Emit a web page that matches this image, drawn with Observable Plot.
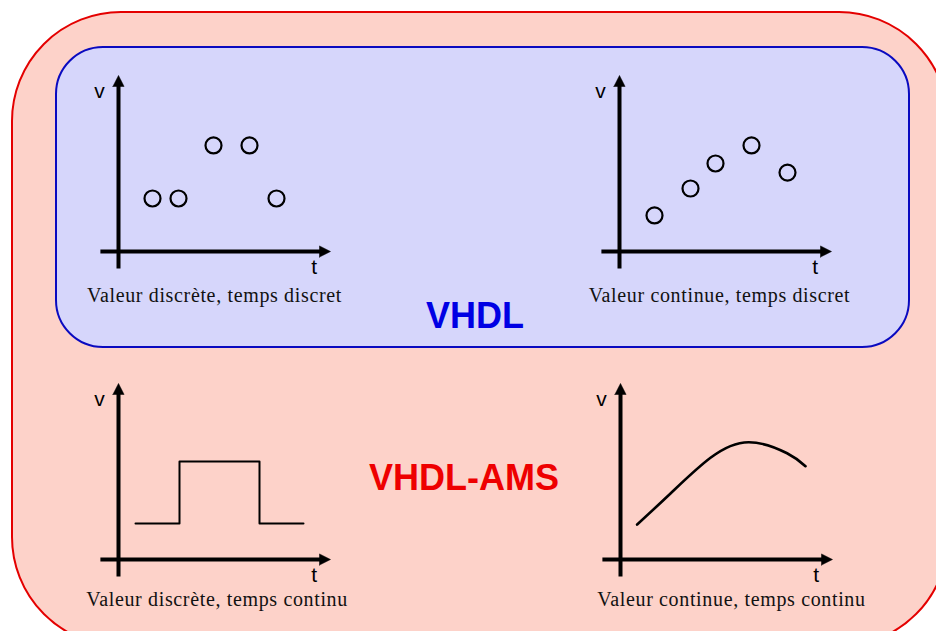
<!DOCTYPE html>
<html>
<head>
<meta charset="utf-8">
<script src="https://cdn.jsdelivr.net/npm/d3@7"></script>
<script src="https://cdn.jsdelivr.net/npm/@observablehq/plot@0.6"></script>
<style>
  html, body { margin: 0; padding: 0; background: #ffffff; overflow: hidden; }
  #stage { position: relative; width: 936px; height: 631px; overflow: hidden; background: #ffffff; }
  .box { position: absolute; box-sizing: border-box; }
  #outer { left: 11px; top: 11px; width: 938px; height: 636px; border: 2px solid #e40000; border-radius: 110px; background: #fdd2c9; }
  #inner { left: 55px; top: 46px; width: 855px; height: 302px; border: 2px solid #0a0ac0; border-radius: 48px; background: #d6d6fb; }
  .label { position: absolute; font-family: "Liberation Sans", Arial, sans-serif; font-weight: bold; font-size: 36px; line-height: 36px; white-space: nowrap; transform: translateX(-50%); }
  .panel { position: absolute; }
  .panel g[font-family*="Serif"] text { letter-spacing: 0.65px; }
</style>
</head>
<body>
<div id="stage">
  <div id="outer" class="box"></div>
  <div id="inner" class="box"></div>
</div>
<script>
// ---------- data ----------
const panelNames = ["tl", "tr", "bl", "br"];
const captions = [
  "Valeur discrète, temps discret",
  "Valeur continue, temps discret",
  "Valeur discrète, temps continu",
  "Valeur continue, temps continu"
];
const captionT = [4.8, 5.0, 4.93, 5.55];
const captionV = [-2.91, -2.91, -2.63, -2.63];

// discrete value, discrete time (points)
const tlT = [1.7, 3.0, 4.75, 6.55, 7.9];
const tlV = [3.03, 3.03, 6.06, 6.06, 3.03];
// continuous value, discrete time (points)
const trT = [1.75, 3.55, 4.8, 6.6, 8.4];
const trV = [2.06, 3.6, 5.03, 6.06, 4.51];
// discrete value, continuous time (step)
const blT = [0.85, 3.05, 7.05, 9.25];
const blV = [2.06, 5.6, 2.06, 2.06];
// continuous value, continuous time (curve)
const brT = [0.83, 2.5, 4.5, 6.42, 8.33, 9.25];
const brV = [2.0, 3.77, 5.81, 6.7, 6.07, 5.33];

// axis extents (t axis, v axis) and axis labels
const axisT = [-0.88, 10.6];
const axisV = [-1.0, 10.06];
const axisLabels = ["v", "t"];
const axisLabelT = [-0.95, 9.78];
const axisLabelV = [9.15, -0.9];

const titles = ["VHDL", "VHDL-AMS"];

// ---------- layout (pixels) ----------
const origins = [[118, 251], [619, 251], [118, 559], [620, 559]];
const W = 260, H = 250, ML = 40, MR = 20, MT = 10, MB = 65;
const headLenT = 0.55, headHalfV = 0.32;   // horizontal arrow head (t units, v units)
const headLenV = 0.63, headHalfT = 0.28;   // vertical arrow head

function zip(ts, vs) { return ts.map((t, i) => ({t, v: vs[i]})); }

function panel(i) {
  const marks = [];
  // axes with filled arrow heads
  marks.push(Plot.ruleX([0], {y1: axisV[0], y2: axisV[1] - headLenV + 0.05, stroke: "black", strokeWidth: 4}));
  marks.push(Plot.ruleY([0], {x1: axisT[0], x2: axisT[1] - headLenT + 0.05, stroke: "black", strokeWidth: 4}));
  const headV = [
    {t: -headHalfT, v: axisV[1] - headLenV}, {t: 0, v: axisV[1]},
    {t: headHalfT, v: axisV[1] - headLenV}, {t: -headHalfT, v: axisV[1] - headLenV}
  ];
  const headT = [
    {t: axisT[1] - headLenT, v: -headHalfV}, {t: axisT[1], v: 0},
    {t: axisT[1] - headLenT, v: headHalfV}, {t: axisT[1] - headLenT, v: -headHalfV}
  ];
  marks.push(Plot.line(headV, {x: "t", y: "v", fill: "black", stroke: "black", strokeWidth: 0.5}));
  marks.push(Plot.line(headT, {x: "t", y: "v", fill: "black", stroke: "black", strokeWidth: 0.5}));
  // axis labels
  marks.push(Plot.text(axisLabels, {
    x: (d, j) => axisLabelT[j], y: (d, j) => axisLabelV[j], text: d => d,
    fontFamily: "Liberation Sans, Arial, sans-serif", fontSize: 21, fill: "black"
  }));
  // series
  if (i === 0) marks.push(Plot.dot(zip(tlT, tlV), {x: "t", y: "v", r: 8, stroke: "black", strokeWidth: 2.2, fill: "none"}));
  if (i === 1) marks.push(Plot.dot(zip(trT, trV), {x: "t", y: "v", r: 8, stroke: "black", strokeWidth: 2.2, fill: "none"}));
  if (i === 2) marks.push(Plot.line(zip(blT, blV), {x: "t", y: "v", curve: "step-after", stroke: "black", strokeWidth: 2}));
  if (i === 3) marks.push(Plot.line(zip(brT, brV), {x: "t", y: "v", curve: "natural", stroke: "black", strokeWidth: 2.6}));
  // caption
  marks.push(Plot.text([captions[i]], {
    x: () => captionT[i], y: () => captionV[i], text: d => d,
    fontFamily: "Liberation Serif, Times New Roman, serif", fontSize: 20, fill: "#111",
    textAnchor: "middle", lineAnchor: "bottom"
  }));
  const svg = Plot.plot({
    width: W, height: H,
    marginLeft: ML, marginRight: MR, marginTop: MT, marginBottom: MB,
    x: {domain: [0, 10], axis: null},
    y: {domain: [0, 10], axis: null},
    style: {background: "transparent", overflow: "visible"},
    marks
  });
  svg.classList.add("panel");
  svg.style.left = (origins[i][0] - ML) + "px";
  svg.style.top = (origins[i][1] - (H - MB)) + "px";
  svg.style.position = "absolute";
  svg.style.maxWidth = "none";
  return svg;
}

const stage = document.getElementById("stage");
panelNames.forEach((name, i) => stage.appendChild(panel(i)));

// section titles
const titleColors = ["#0000e4", "#ee0000"];
const titleCenters = [[475, 328], [464, 490]];
titles.forEach((s, i) => {
  const d = document.createElement("div");
  d.className = "label";
  d.textContent = s;
  d.style.color = titleColors[i];
  d.style.left = titleCenters[i][0] + "px";
  d.style.top = (titleCenters[i][1] - 30.5) + "px";
  stage.appendChild(d);
});
</script>
</body>
</html>
